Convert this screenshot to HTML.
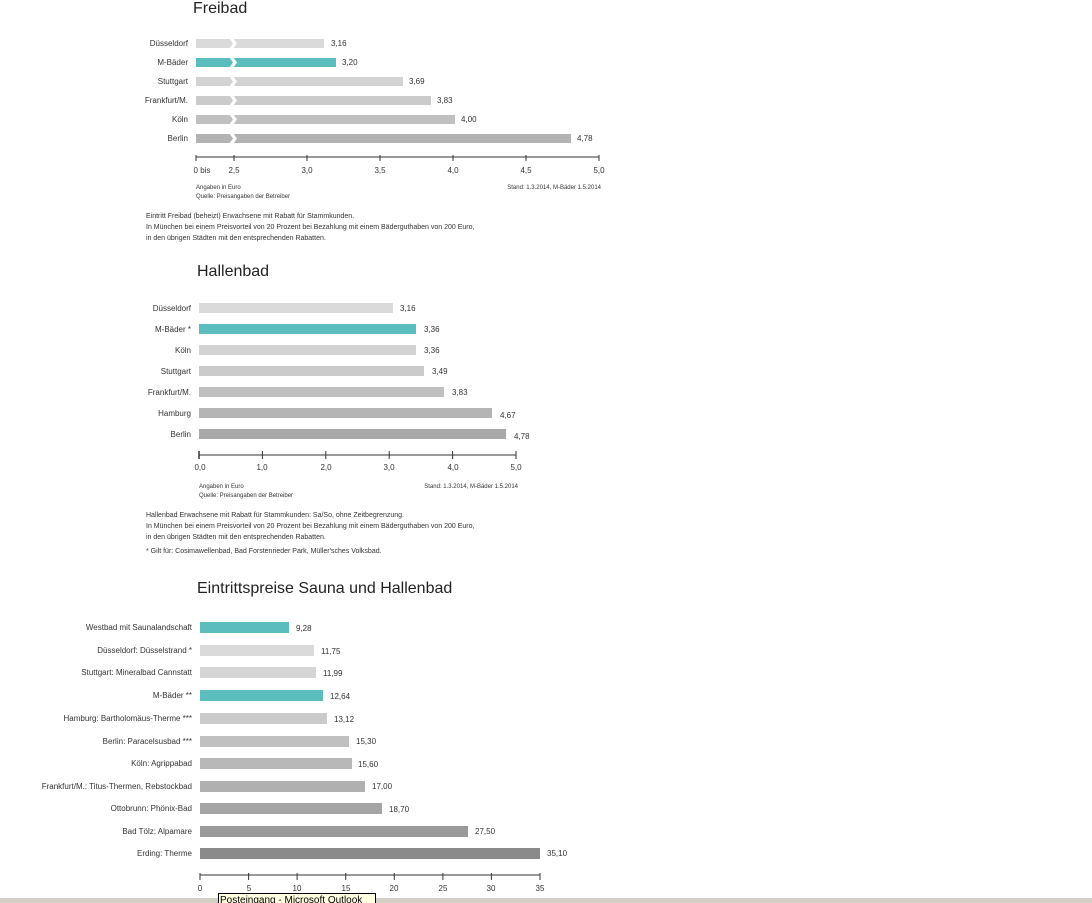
<!DOCTYPE html>
<html><head><meta charset="utf-8"><style>
html,body{margin:0;padding:0;background:#fff;width:1092px;height:903px;overflow:hidden}
svg{display:block;font-family:"Liberation Sans Narrow","Liberation Sans",sans-serif;fill:#333}
.s{font-size:8px}.m{font-size:9px}.t{font-size:16px;fill:#222}
</style></head><body>
<svg width="1092" height="903" viewBox="0 0 1092 903">
<!-- Freibad -->
<text x="193" y="13" class="t">Freibad</text>
<g class="s" text-anchor="end">
<text x="188" y="46">Düsseldorf</text><text x="188" y="65">M-Bäder</text><text x="188" y="84">Stuttgart</text>
<text x="188" y="103">Frankfurt/M.</text><text x="188" y="122">Köln</text><text x="188" y="141">Berlin</text></g>
<g>
<rect x="196" y="39" width="128" height="9" fill="#dadada"/>
<rect x="196" y="58" width="140" height="9" fill="#5bbdbd"/>
<rect x="196" y="77" width="207" height="9" fill="#d3d3d3"/>
<rect x="196" y="96" width="235" height="9" fill="#cbcbcb"/>
<rect x="196" y="115" width="259" height="9" fill="#c0c0c0"/>
<rect x="196" y="134" width="375" height="9" fill="#b3b3b3"/>
</g>
<g fill="#fff">
<polygon points="229,38 233,38 237,43.5 233,49 229,49 233,43.5"/>
<polygon points="229,57 233,57 237,62.5 233,68 229,68 233,62.5"/>
<polygon points="229,76 233,76 237,81.5 233,87 229,87 233,81.5"/>
<polygon points="229,95 233,95 237,100.5 233,106 229,106 233,100.5"/>
<polygon points="229,114 233,114 237,119.5 233,125 229,125 233,119.5"/>
<polygon points="229,133 233,133 237,138.5 233,144 229,144 233,138.5"/>
</g>
<g class="s"><text x="331" y="46">3,16</text><text x="342" y="65">3,20</text><text x="409" y="84">3,69</text>
<text x="437" y="103">3,83</text><text x="461" y="122">4,00</text><text x="577" y="141">4,78</text></g>
<g stroke="#333" stroke-width="1"><line x1="196" y1="157" x2="599" y2="157"/>
<line x1="196" y1="155" x2="196" y2="161"/><line x1="234" y1="155" x2="234" y2="161"/><line x1="307" y1="155" x2="307" y2="161"/>
<line x1="380" y1="155" x2="380" y2="161"/><line x1="453" y1="155" x2="453" y2="161"/><line x1="526" y1="155" x2="526" y2="161"/><line x1="599" y1="155" x2="599" y2="161"/></g>
<g class="s" text-anchor="middle"><text x="202" y="173">0 bis</text><text x="234" y="173">2,5</text><text x="307" y="173">3,0</text>
<text x="380" y="173">3,5</text><text x="453" y="173">4,0</text><text x="526" y="173">4,5</text><text x="599" y="173">5,0</text></g>
<g style="font-size:6px"><text x="196" y="189">Angaben in Euro</text><text x="196" y="198">Quelle: Preisangaben der Betreiber</text>
<text x="601" y="189" text-anchor="end">Stand: 1.3.2014, M-Bäder 1.5.2014</text></g>
<g style="font-size:7px"><text x="146" y="218">Eintritt Freibad (beheizt) Erwachsene mit Rabatt für Stammkunden.</text>
<text x="146" y="229">In München bei einem Preisvorteil von 20 Prozent bei Bezahlung mit einem Bäderguthaben von 200 Euro,</text>
<text x="146" y="240">in den übrigen Städten mit den entsprechenden Rabatten.</text></g>

<!-- Hallenbad -->
<text x="197" y="276" class="t">Hallenbad</text>
<g class="s" text-anchor="end">
<text x="191" y="311">Düsseldorf</text><text x="191" y="332">M-Bäder *</text><text x="191" y="353">Köln</text>
<text x="191" y="374">Stuttgart</text><text x="191" y="395">Frankfurt/M.</text><text x="191" y="416">Hamburg</text><text x="191" y="437">Berlin</text></g>
<rect x="199" y="303" width="194" height="10" fill="#dadada"/>
<rect x="199" y="324" width="217" height="10" fill="#5bbdbd"/>
<rect x="199" y="345" width="217" height="10" fill="#d3d3d3"/>
<rect x="199" y="366" width="225" height="10" fill="#cbcbcb"/>
<rect x="199" y="387" width="245" height="10" fill="#c0c0c0"/>
<rect x="199" y="408" width="293" height="10" fill="#b5b5b5"/>
<rect x="199" y="429" width="307" height="10" fill="#a8a8a8"/>
<g class="s"><text x="400" y="311">3,16</text><text x="424" y="332">3,36</text><text x="424" y="353">3,36</text>
<text x="432" y="374">3,49</text><text x="452" y="395">3,83</text><text x="500" y="418">4,67</text><text x="514" y="439">4,78</text></g>
<g stroke="#333"><line x1="199" y1="455" x2="516" y2="455"/>
<line x1="199" y1="451" x2="199" y2="459" stroke-width="1.5"/><line x1="262.4" y1="451" x2="262.4" y2="459"/><line x1="325.8" y1="451" x2="325.8" y2="459"/>
<line x1="389.2" y1="451" x2="389.2" y2="459"/><line x1="452.6" y1="451" x2="452.6" y2="459"/><line x1="516" y1="451" x2="516" y2="459"/></g>
<g class="s" text-anchor="middle"><text x="200" y="470">0,0</text><text x="262" y="470">1,0</text><text x="326" y="470">2,0</text>
<text x="389" y="470">3,0</text><text x="453" y="470">4,0</text><text x="516" y="470">5,0</text></g>
<g style="font-size:6px"><text x="199" y="488">Angaben in Euro</text><text x="199" y="497">Quelle: Preisangaben der Betreiber</text>
<text x="518" y="488" text-anchor="end">Stand: 1.3.2014, M-Bäder 1.5.2014</text></g>
<g style="font-size:7px"><text x="146" y="517">Hallenbad Erwachsene mit Rabatt für Stammkunden: Sa/So, ohne Zeitbegrenzung.</text>
<text x="146" y="528">In München bei einem Preisvorteil von 20 Prozent bei Bezahlung mit einem Bäderguthaben von 200 Euro,</text>
<text x="146" y="539">in den übrigen Städten mit den entsprechenden Rabatten.</text>
<text x="146" y="553">* Gilt für: Cosimawellenbad, Bad Forstenrieder Park, Müller'sches Volksbad.</text></g>

<!-- Sauna -->
<text x="197" y="593" class="t">Eintrittspreise Sauna und Hallenbad</text>
<g class="s" text-anchor="end">
<text x="192" y="630">Westbad mit Saunalandschaft</text><text x="192" y="653">Düsseldorf: Düsselstrand *</text>
<text x="192" y="675">Stuttgart: Mineralbad Cannstatt</text><text x="192" y="698">M-Bäder **</text>
<text x="192" y="721">Hamburg: Bartholomäus-Therme ***</text><text x="192" y="744">Berlin: Paracelsusbad ***</text>
<text x="192" y="766">Köln: Agrippabad</text><text x="192" y="789">Frankfurt/M.: Titus-Thermen, Rebstockbad</text>
<text x="192" y="811">Ottobrunn: Phönix-Bad</text><text x="192" y="834">Bad Tölz: Alpamare</text><text x="192" y="856">Erding: Therme</text></g>
<rect x="200" y="622" width="89" height="11" fill="#5bbdbd"/>
<rect x="200" y="645" width="114" height="11" fill="#dadada"/>
<rect x="200" y="667" width="116" height="11" fill="#d5d5d5"/>
<rect x="200" y="690" width="123" height="11" fill="#5bbdbd"/>
<rect x="200" y="713" width="127" height="11" fill="#cacaca"/>
<rect x="200" y="736" width="149" height="11" fill="#c0c0c0"/>
<rect x="200" y="758" width="152" height="11" fill="#b8b8b8"/>
<rect x="200" y="781" width="165" height="11" fill="#b0b0b0"/>
<rect x="200" y="803" width="182" height="11" fill="#a5a5a5"/>
<rect x="200" y="826" width="268" height="11" fill="#999"/>
<rect x="200" y="848" width="340" height="11" fill="#8a8a8a"/>
<g class="s"><text x="296" y="631">9,28</text><text x="321" y="654">11,75</text><text x="323" y="676">11,99</text>
<text x="330" y="699">12,64</text><text x="334" y="722">13,12</text><text x="356" y="744">15,30</text>
<text x="358" y="767">15,60</text><text x="372" y="789">17,00</text><text x="389" y="812">18,70</text>
<text x="475" y="834">27,50</text><text x="547" y="856">35,10</text></g>
<g stroke="#333"><line x1="200" y1="875" x2="540" y2="875"/>
<line x1="200" y1="873" x2="200" y2="880"/><line x1="248.6" y1="873" x2="248.6" y2="880"/><line x1="297.1" y1="873" x2="297.1" y2="880"/>
<line x1="345.7" y1="873" x2="345.7" y2="880"/><line x1="394.3" y1="873" x2="394.3" y2="880"/><line x1="442.9" y1="873" x2="442.9" y2="880"/>
<line x1="491.4" y1="873" x2="491.4" y2="880"/><line x1="540" y1="873" x2="540" y2="880"/></g>
<g class="s" text-anchor="middle"><text x="200" y="891">0</text><text x="249" y="891">5</text><text x="297" y="891">10</text>
<text x="346" y="891">15</text><text x="394" y="891">20</text><text x="443" y="891">25</text><text x="491" y="891">30</text><text x="540" y="891">35</text></g>
<rect x="0" y="898" width="1092" height="5" fill="#d4d0c8"/>
<rect x="218.5" y="893.5" width="157" height="12" fill="#ffffe1" stroke="#000"/>
<text x="220" y="903" style="font-size:10px;font-family:'Liberation Sans',sans-serif" fill="#000">Posteingang - Microsoft Outlook</text>
</svg>
</body></html>
